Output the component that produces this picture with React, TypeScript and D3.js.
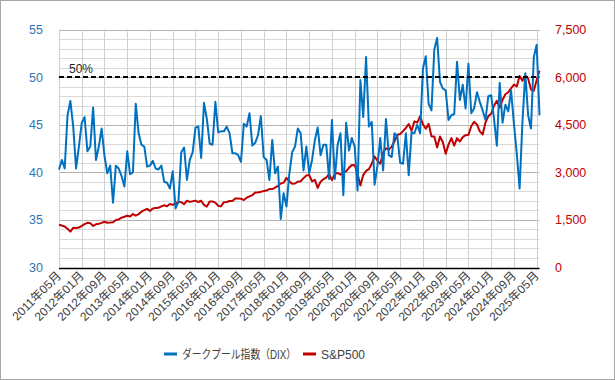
import React from "react";
import * as d3 from "d3";

const tickLabels = [
  "2011年05月","2012年01月","2012年09月","2013年05月","2014年01月","2014年09月",
  "2015年05月","2016年01月","2016年09月","2017年05月","2018年01月","2018年09月",
  "2019年05月","2020年01月","2020年09月","2021年05月","2022年01月","2022年09月",
  "2023年05月","2024年01月","2024年09月","2025年05月",
];

const dixValues = [
  40.3, 41.3, 40.4, 46.0, 47.5, 44.8, 40.4, 42.7, 45.2, 45.8,
  42.2, 42.7, 46.8, 41.3, 42.7, 44.6, 41.7, 39.9, 40.7, 36.8,
  40.7, 40.4, 39.6, 38.5, 42.2, 39.8, 40.0, 47.2, 44.1, 42.9,
  42.7, 40.6, 40.7, 41.2, 40.4, 40.3, 40.7, 39.0, 38.9, 38.3,
  40.1, 36.2, 36.9, 42.1, 42.6, 39.2, 41.3, 42.1, 44.7, 44.8,
  41.5, 47.3, 45.6, 43.0, 42.9, 47.4, 44.2, 44.3, 44.3, 44.8,
  44.1, 42.0, 42.0, 41.8, 41.1, 45.1, 44.8, 46.2, 42.8, 43.1,
  43.9, 45.9, 41.6, 41.3, 39.2, 43.4, 39.9, 40.6, 35.1, 37.8,
  36.4, 39.8, 42.1, 42.7, 44.6,
  44.1, 40.2, 42.7, 39.9, 41.3, 43.4, 44.7, 41.8, 42.9, 42.9,
  39.3, 45.5, 39.3, 42.9, 44.1, 37.6, 45.2, 42.3, 43.6, 42.7,
  38.1, 49.7, 45.8, 52.1, 44.8, 45.3, 38.7, 40.7, 43.6, 40.2,
  45.6, 41.8, 41.6, 44.1, 43.8, 41.0, 40.9, 44.1, 39.7, 44.2,
  44.1, 45.0, 44.1, 50.9, 52.2, 47.2, 46.5, 52.9, 54.1, 49.5,
  48.8, 48.6, 45.5, 46.0, 46.1, 51.6, 47.6, 49.2, 46.7, 51.4,
  46.2, 46.7, 48.4, 47.4, 46.5, 45.5, 48.0, 48.1, 45.6, 42.8,
  49.4, 45.2, 47.1, 46.4, 48.6, 45.1, 42.0, 38.3, 45.3, 50.4,
  46.0, 44.6, 52.1, 53.4, 46.0,
];

const spxValues = [
  1345, 1321, 1292, 1219, 1131, 1253, 1247, 1258,
  1312, 1366, 1408, 1398, 1310, 1362, 1379, 1407, 1441, 1412, 1416, 1426,
  1498, 1515, 1569, 1598, 1631, 1606, 1686, 1633, 1682, 1757, 1806, 1848,
  1783, 1859, 1872, 1884, 1924, 1960, 1931, 2003, 1972, 2018, 2068, 2059,
  1995, 2105, 2068, 2086, 2107, 2063, 2104, 1972, 1920, 2079, 2080, 2044,
  1940, 1932, 2060, 2065, 2097, 2099, 2174, 2171, 2168, 2126, 2199, 2239,
  2279, 2364, 2363, 2384, 2412, 2423, 2470, 2472, 2519, 2575, 2648, 2674,
  2824, 2714, 2641, 2648, 2705, 2718, 2816, 2902, 2914, 2712, 2760, 2507,
  2704, 2784, 2834, 2946, 2752, 2942, 2980, 2926, 2977, 3038, 3141, 3231,
  3226, 2954, 2585, 2912, 3044, 3100, 3271, 3500, 3363, 3270, 3622, 3756,
  3714, 3811, 3973, 4181, 4204, 4298, 4395, 4523, 4308, 4605, 4567, 4766,
  4516, 4374, 4530, 4132, 4132, 3785, 4130, 3955, 3586, 3872, 4080, 3840,
  4077, 3970, 4109, 4169, 4180, 4450, 4589, 4508, 4288, 4194, 4568, 4770,
  4846, 5096, 5254, 5036, 5278, 5460, 5522, 5648, 5762, 5705, 6032, 5882,
  6041, 5955, 5612, 5569, 5912, 6205,
];

const leftTicks = [30, 35, 40, 45, 50, 55];
const rightTicks = [0, 1500, 3000, 4500, 6000, 7500];
const seriesNames = ["ダークプール指数（DIX）", "S&P500"];
const thresholdValue = 50;
const thresholdLabel = "50%";
const tickEvery = 8;

const W = 615, H = 380;
const L = 59, R = 539.5, T = 29.5, B = 267.5;
const BLUE = "#0070c0";
const RED = "#c00000";
const FONT = "'Liberation Sans', Arial, 'Noto Sans CJK JP', sans-serif";

export default function App() {
  const n = dixValues.length;
  const x = d3.scaleLinear().domain([0, n - 1]).range([L, R]);
  const yL = d3.scaleLinear().domain([30, 55]).range([B, T]);
  const yR = d3.scaleLinear().domain([0, 7500]).range([B, T]);
  const idx = d3.range(n);
  const lineDix = d3.line<number>().x((i) => x(i)).y((i) => yL(dixValues[i]));
  const lineSpx = d3.line<number>().x((i) => x(i)).y((i) => yR(spxValues[i]));
  const minor = d3.range(30, 55.001, 1);
  const fmt = d3.format(",");
  const crisp = (v: number) => Math.round(v) + 0.5;

  return (
    <svg width={W} height={H} style={{ position: "absolute", left: 0, top: 0, fontFamily: FONT }}>
      <rect x={0.5} y={0.5} width={W - 1} height={H - 1} fill="#fff" stroke="#a6a6a6" />
      {minor.map((v) => (
        <line key={"mn" + v} x1={L} x2={R} y1={crisp(yL(v))} y2={crisp(yL(v))}
          stroke={v % 5 === 0 ? "#b3b3b3" : "#d9d9d9"} strokeWidth={1} />
      ))}
      {tickLabels.map((t, k) => (
        <line key={"vg" + k} x1={crisp(x(k * tickEvery))} x2={crisp(x(k * tickEvery))} y1={T} y2={B}
          stroke="#d0d0d0" strokeWidth={1} />
      ))}
      <line x1={L} x2={R} y1={crisp(yL(30))} y2={crisp(yL(30))} stroke="#000" strokeWidth={1.3} />
      {leftTicks.map((v) => (
        <text key={"lt" + v} x={43} y={yL(v) + 4.5} textAnchor="end" fontSize={12.5} fill="#2e75b6">{v}</text>
      ))}
      {rightTicks.map((v) => (
        <text key={"rt" + v} x={555} y={yR(v) + 4.5} textAnchor="start" fontSize={12.5} fill={RED}>{fmt(v)}</text>
      ))}
      {tickLabels.map((t, k) => (
        <text key={"xt" + k} transform={`translate(${x(k * tickEvery) + 3},${B + 9}) rotate(-45)`}
          textAnchor="end" fontSize={12} fill="#404040">{t}</text>
      ))}
      <path d={lineSpx(idx) || ""} fill="none" stroke={RED} strokeWidth={2} strokeLinejoin="round" />
      <path d={lineDix(idx) || ""} fill="none" stroke={BLUE} strokeWidth={2} strokeLinejoin="round" />
      <line x1={L} x2={R} y1={yL(thresholdValue)} y2={yL(thresholdValue)} stroke="#000" strokeWidth={2} strokeDasharray="5,3" />
      <text x={69} y={yL(thresholdValue) - 4} fontSize={12} fill="#262626">{thresholdLabel}</text>
      <line x1={164} x2={177} y1={354} y2={354} stroke={BLUE} strokeWidth={3} />
      <text x={182} y={358.5} fontSize={12} fill="#404040" textLength={114} lengthAdjust="spacingAndGlyphs">{seriesNames[0]}</text>
      <line x1={303} x2={316} y1={354} y2={354} stroke={RED} strokeWidth={3} />
      <text x={321} y={358.5} fontSize={12} fill="#404040">{seriesNames[1]}</text>
    </svg>
  );
}
